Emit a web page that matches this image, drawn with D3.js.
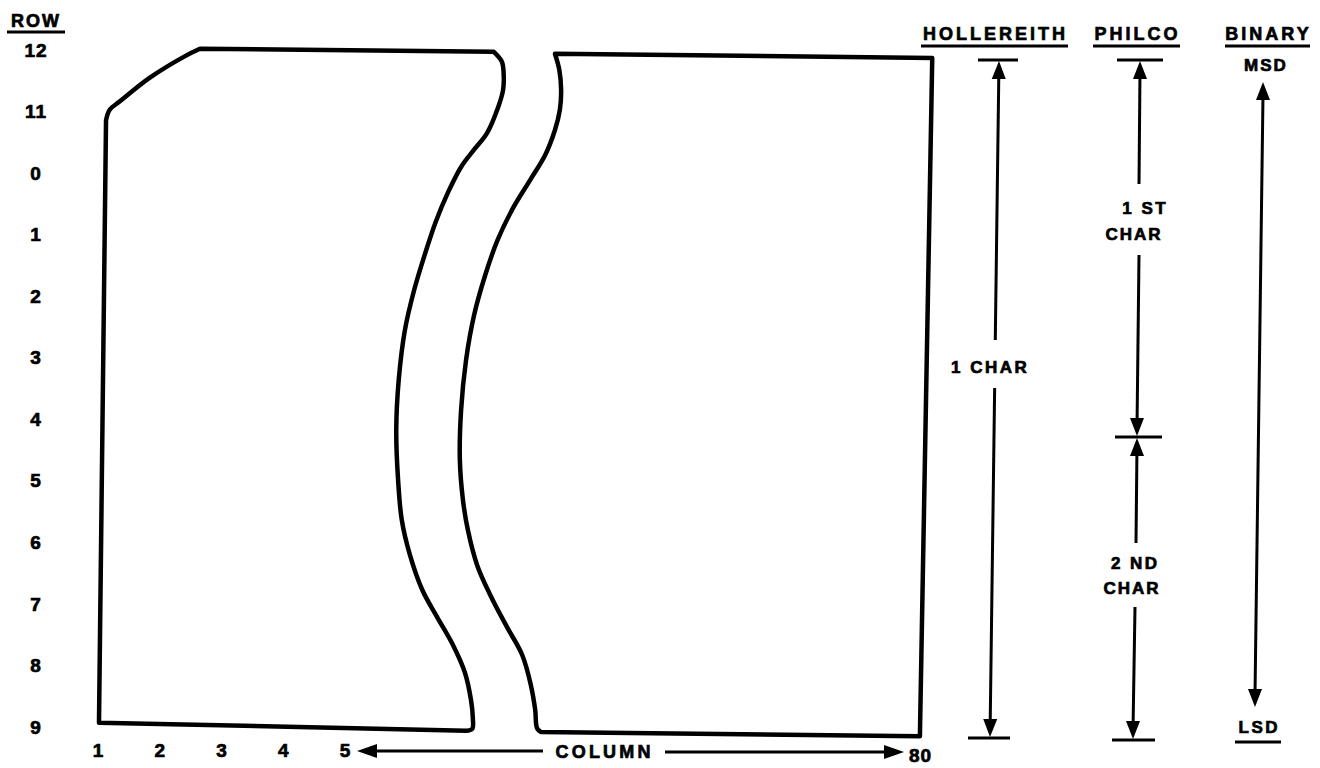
<!DOCTYPE html>
<html>
<head>
<meta charset="utf-8">
<script src="https://cdn.jsdelivr.net/npm/d3@7"></script>
<style>
  html, body { margin: 0; padding: 0; background: #fff; }
  svg { display: block; }
  text { font-family: "Liberation Sans", Arial, sans-serif; font-weight: bold; fill: #000;
         stroke: #000; stroke-width: 0.7px; paint-order: stroke; }
</style>
</head>
<body>
<svg id="chart" width="1320" height="768"></svg>
<script>
// ---------- data ----------
const rowLabels = ["12", "11", "0", "1", "2", "3", "4", "5", "6", "7", "8", "9"];
const columnLabels = ["1", "2", "3", "4", "5"];
const lastColumnLabel = "80";
const codeHeaders = ["HOLLEREITH", "PHILCO", "BINARY"];
const hollerithLabel = ["1 CHAR"];
const philcoFirst = ["1 ST", "CHAR"];
const philcoSecond = ["2 ND", "CHAR"];
const binaryEnds = ["MSD", "LSD"];

// card outline, in (column units, row index) — broken card, left piece
const leftStraightSide = [[1.016, 10.93], [1.13, 1.14]];
const leftCornerCut = [[1.13, 1.14], [1.19, 0.97], [1.36, 0.83], [1.84, 0.45], [2.41, 0.10], [2.65, -0.02]];
const leftTopEdge = [[2.65, -0.02], [7.41, 0.03]];
const leftTornEdge = [[7.41, 0.03], [7.54, 0.19], [7.57, 0.41], [7.56, 0.65], [7.48, 0.93], [7.30, 1.35],
  [7.09, 1.62], [6.88, 1.90], [6.67, 2.31], [6.47, 2.79], [6.29, 3.33], [6.12, 3.90], [5.97, 4.55],
  [5.87, 5.36], [5.83, 6.17], [5.86, 6.99], [5.92, 7.64], [6.05, 8.20], [6.25, 8.77], [6.49, 9.21],
  [6.75, 9.67], [6.94, 10.11], [7.04, 10.56], [7.07, 10.85], [7.06, 11.03], [6.96, 11.06]];
const leftBottomEdge = [[6.96, 11.06], [1.016, 10.93]];

// right piece
const rightTornEdge = [[8.40, 0.06], [8.47, 0.32], [8.50, 0.65], [8.48, 0.97], [8.40, 1.30], [8.24, 1.71],
  [8.00, 2.11], [7.72, 2.57], [7.47, 3.09], [7.27, 3.66], [7.09, 4.31], [6.96, 5.04], [6.88, 5.85],
  [6.86, 6.66], [6.91, 7.31], [6.99, 7.80], [7.14, 8.37], [7.35, 8.85], [7.62, 9.37], [7.87, 9.83],
  [8.01, 10.32], [8.08, 10.72], [8.11, 11.02], [8.17, 11.08]];
const rightStraightSides = [[8.17, 11.08], [14.31, 11.15], [14.51, 0.13], [8.40, 0.06]];

// ---------- scales ----------
const svg = d3.select("#chart");
const yRow = d3.scalePoint().domain(rowLabels).range([50, 727]);
const yIdx = d3.scaleLinear().domain([0, rowLabels.length - 1]).range([50, 727]);
const xCol = d3.scaleLinear().domain([1, 5]).range([98, 345]);

const straight = d3.line().x(d => xCol(d[0])).y(d => yIdx(d[1]));
const curved = d3.line().x(d => xCol(d[0])).y(d => yIdx(d[1])).curve(d3.curveCatmullRom.alpha(0.5));

function joinPath(parts) {
  return parts.map((p, i) => {
    const s = (p.curve ? curved : straight)(p.pts);
    return i === 0 ? s : "L" + s.slice(1);
  }).join("") + "Z";
}

const cardStyle = g => g.attr("fill", "none").attr("stroke", "#000")
  .attr("stroke-width", 4.5).attr("stroke-linejoin", "round").attr("stroke-linecap", "round");

svg.append("path").call(cardStyle).attr("d", joinPath([
  { pts: leftStraightSide }, { pts: leftCornerCut, curve: true }, { pts: leftTopEdge },
  { pts: leftTornEdge, curve: true }, { pts: leftBottomEdge }
]));
svg.append("path").call(cardStyle).attr("d", joinPath([
  { pts: rightTornEdge, curve: true }, { pts: rightStraightSides }
]));

// ---------- row labels ----------
svg.append("text").attr("x", 36).attr("y", 21).attr("dy", "0.35em").attr("text-anchor", "middle")
  .attr("font-size", 18).attr("letter-spacing", 2).text("ROW");
svg.append("line").attr("x1", 7).attr("x2", 65).attr("y1", 32).attr("y2", 32)
  .attr("stroke", "#000").attr("stroke-width", 3);
svg.selectAll(".row").data(rowLabels).enter().append("text")
  .attr("x", 36).attr("y", d => yRow(d)).attr("dy", "0.35em").attr("text-anchor", "middle")
  .attr("font-size", 19).attr("letter-spacing", 1).text(d => d);

// ---------- column labels ----------
svg.selectAll(".col").data(columnLabels).enter().append("text")
  .attr("x", d => xCol(+d)).attr("y", 750).attr("dy", "0.35em").attr("text-anchor", "middle")
  .attr("font-size", 19).text(d => d);

function arrowHead(tipX, tipY, fromX, fromY, len = 18, w = 7) {
  const dx = tipX - fromX, dy = tipY - fromY, L = Math.hypot(dx, dy);
  const ux = dx / L, uy = dy / L, px = -uy, py = ux;
  const bx = tipX - ux * len, by = tipY - uy * len;
  svg.append("path").attr("fill", "#000")
    .attr("d", `M${tipX},${tipY}L${bx + px * w},${by + py * w}L${bx - px * w},${by - py * w}Z`);
}
function seg(x1, y1, x2, y2, w = 3) {
  svg.append("line").attr("x1", x1).attr("y1", y1).attr("x2", x2).attr("y2", y2)
    .attr("stroke", "#000").attr("stroke-width", w).attr("stroke-linecap", "butt");
}
function label(t, x, y, size = 17, ls = 2.5) {
  svg.append("text").attr("x", x + ls / 2).attr("y", y).attr("dy", "0.35em").attr("text-anchor", "middle")
    .attr("font-size", size).attr("letter-spacing", ls).text(t);
}

// COLUMN arrow
seg(543, 751, 370, 751);
arrowHead(357, 751, 543, 751, 20, 7);
label("COLUMN", 603, 752, 18, 3.2);
seg(665, 752, 890, 752);
arrowHead(904, 752, 665, 752, 20, 7);
label(lastColumnLabel, 920, 755, 19, 1);

// ---------- headers ----------
const headerPos = [[994, 34, 921, 1068], [1136, 34, 1093, 1180], [1267, 34, 1225, 1310]];
codeHeaders.forEach((h, i) => {
  const p = headerPos[i];
  label(h, p[0], p[1], 18, 3);
  seg(p[2], 46, p[3], 46, 3);
});

// HOLLERITH: 1 char spanning all rows
seg(978, 60, 1018, 60);
seg(968, 738, 1010, 738);
const hx = y => 999 + (990 - 999) * (y - 60) / (738 - 60);
seg(hx(70), 70, hx(340), 340);
seg(hx(388), 388, hx(728), 728);
arrowHead(hx(61), 61, hx(120), 120, 18, 7);
arrowHead(hx(737), 737, hx(680), 680, 18, 7);
label(hollerithLabel[0], 989, 367, 17, 2.5);

// PHILCO: two characters
seg(1117, 60, 1163, 60);
seg(1115, 437, 1162, 437);
seg(1112, 740, 1155, 740);
seg(1140, 70, 1139, 184);
seg(1139, 255, 1137, 428);
arrowHead(1140, 61, 1140, 120, 18, 7);
arrowHead(1137, 436, 1137, 380, 18, 7);
seg(1137, 446, 1136, 543);
seg(1135, 607, 1133, 730);
arrowHead(1137, 438, 1137, 500, 18, 7);
arrowHead(1133, 739, 1133, 680, 18, 7);
label(philcoFirst[0], 1144, 208, 17, 2.5);
label(philcoFirst[1], 1133, 234, 17, 2);
label(philcoSecond[0], 1134, 563, 17, 2.5);
label(philcoSecond[1], 1131, 588, 17, 2);

// BINARY: MSD to LSD
label(binaryEnds[0], 1265, 65, 17, 2);
seg(1263, 95, 1255, 695);
arrowHead(1263, 82, 1263, 140, 18, 7);
arrowHead(1255, 707, 1255, 650, 18, 7);
label(binaryEnds[1], 1258, 727, 17, 2.5);
seg(1235, 742, 1281, 742, 3);
</script>
</body>
</html>
